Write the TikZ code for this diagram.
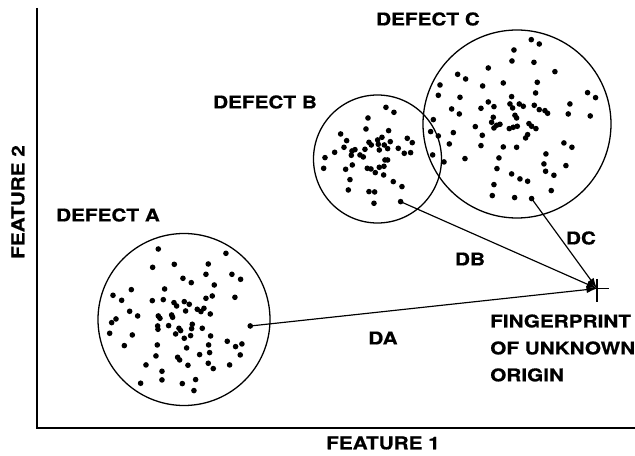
\documentclass[tikz,border=0pt]{standalone}
\usepackage{fontspec}
\usepackage{tikz}
\usetikzlibrary{arrows.meta}
\setsansfont{TeX Gyre Heros}[FakeStretch=1.18, BoldFeatures={FakeBold=0.6}]

\tikzset{
  lbl/.style={font=\sffamily\bfseries\fontsize{15}{23}\selectfont, inner sep=0pt},
  ring/.style={line width=1.1pt},
  dist/.style={line width=1pt, -{Latex[length=9pt,width=6pt]}},
  dotsat/.style={x=0.01cm, y=-0.01cm}
}

\begin{document}
\begin{tikzpicture}[x=0.03cm, y=0.03cm]
    \useasboundingbox (0,-456) rectangle (635,0);
    % axes
    \draw[line width=1pt] (37,-8) -- (37,-428) -- (635,-428);
    \node[lbl, rotate=90] (f2) at (18,-202) {FEATURE 2};
    \node[lbl] (f1) at (383,-443) {FEATURE 1};

    % the three defect clusters
    \draw[ring] (184,-319.5) circle (86);
    \draw[ring] (377.5,-159) circle (64);
    \draw[ring] (517,-124) circle (94);
    \node[lbl] (defa) at (108,-215) {DEFECT A};
    \node[lbl] (defb) at (265,-102) {DEFECT B};
    \node[lbl] (defc) at (428,-19) {DEFECT C};

    % dots of A
    \begin{scope}[shift={(95,-230)}, dotsat]
    \foreach \a/\b in {190/57,393/70,173/112,238/103,340/102,333/133,411/133,437/148,
        264/145,289/158,358/165,109/179,209/177,54/196,80/211,172/212,205/209,237/218,
        245/228,268/215,283/223,333/205,352/198,420/202,104/244,128/258,272/243,307/238,
        327/235,318/245,346/252,63/267,50/278,190/258,195/265,230/255,233/262,44/310,
        112/315,188/288,189/298,221/287,252/295,257/302,242/312,292/283,290/296,322/295,
        268/325,287/317,347/318,88/347,187/345,275/354,341/345,397/334,422/350,441/342,
        183/378,248/382,254/390,314/374,344/368,436/375,153/405,279/406,340/400,355/416,
        404/405,201/424,137/460,201/450,262/461,302/449,297/482,466/288}
      \fill (\a,\b) circle[radius=2.4pt];
    \end{scope}

    % dots of B
    \begin{scope}[shift={(310,-90)}, dotsat]
    \foreach \a/\b in {228/52,252/67,174/84,168/117,236/122,92/132,110/152,177/157,
        203/150,216/142,241/155,292/145,307/158,45/203,74/187,102/172,126/183,135/179,
        124/196,150/195,160/201,165/178,184/165,205/163,223/165,208/180,233/176,265/175,
        283/190,302/188,41/235,107/238,127/225,172/235,183/237,196/248,208/232,225/210,
        233/210,222/229,221/255,250/275,276/290,120/269,115/300,177/305,194/306,192/340,
        272/335}
      \fill (\a,\b) circle[radius=2.4pt];
    \end{scope}

    % dots of C
    \begin{scope}[shift={(420,-28)}, dotsat]
    \foreach \a/\b in {334/35,358/48,282/66,276/99,342/103,205/120,405/131,113/139,
        137/153,250/165,352/163,60/171,188/174,347/195,503/194,527/209,55/202,120/208,
        205/222,222/236,183/241,275/206,270/228,278/240,298/228,310/235,343/232,358/245,
        375/248,383/256,450/228,95/243,118/258,445/258,511/264,220/268,215/283,230/292,
        240/289,222/300,285/262,290/270,280/298,268/302,292/295,327/287,335/295,348/302,
        323/320,317/330,40/275,166/296,32/311,55/324,100/314,187/322,88/348,183/353,
        250/357,290/358,432/345,456/358,38/381,72/402,135/392,237/390,378/378,372/408,
        377/430,402/442,438/413,231/422,275/438,300/453,323/460,222/470,394/488,217/503,
        284/509,335/512}
      \fill (\a,\b) circle[radius=2.4pt];
    \end{scope}

    % unknown fingerprint
    \coordinate (fp) at (597,-288.5);
    \draw[line width=1pt] (587,-288.5) -- (609,-288.5);
    \draw[line width=1pt] (597,-279) -- (597,-302);
    \node[lbl, anchor=west, align=left] (unk) at (490,-348) {FINGERPRINT\\OF UNKNOWN\\ORIGIN};

    % distances
    \coordinate (pa) at (250.3,-326);
    \coordinate (pb) at (400.7,-201.7);
    \coordinate (pc) at (531.7,-198.7);
    \draw[dist] (pa) -- (fp);
    \draw[dist] (pb) -- (fp);
    \draw[dist] (pc) -- (fp);
    \node[lbl] (da) at (383,-338) {DA};
    \node[lbl] (db) at (470,-259) {DB};
    \node[lbl] (dc) at (581,-238) {DC};
\end{tikzpicture}
\end{document}
